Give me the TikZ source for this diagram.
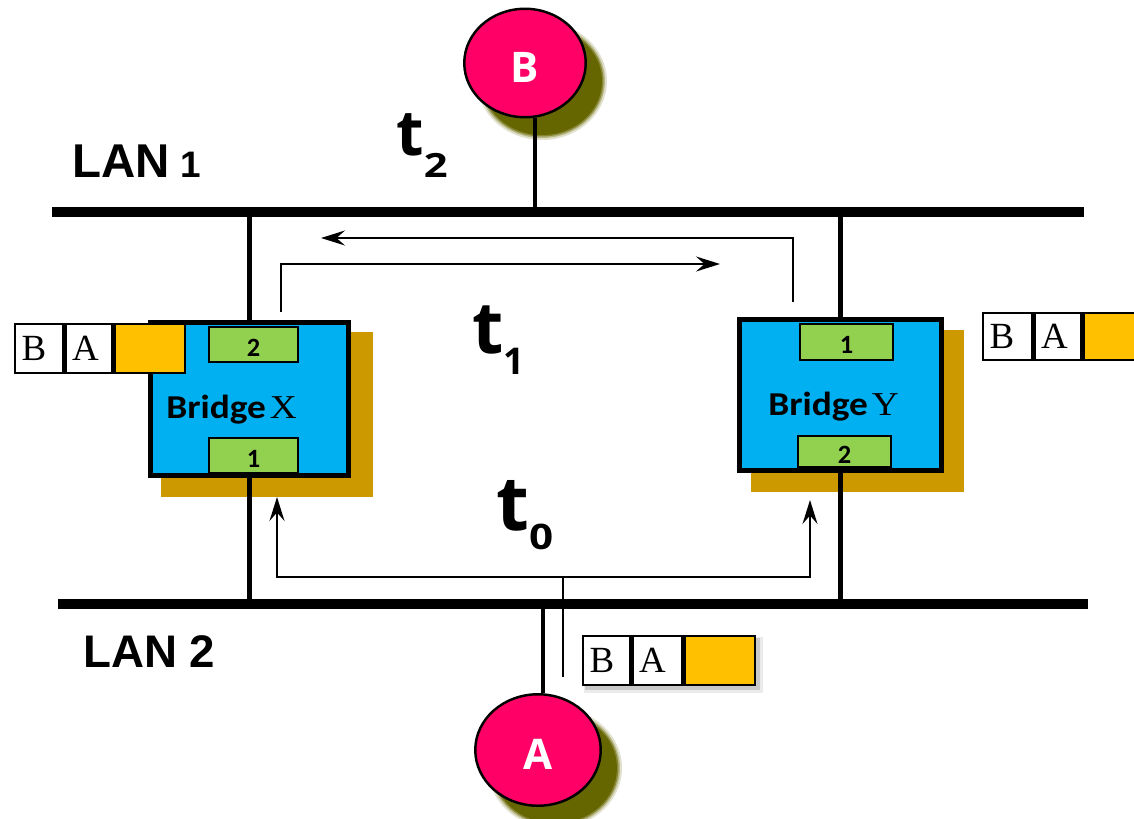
\documentclass[tikz,border=0pt]{standalone}
\usepackage{fontspec}
\usetikzlibrary{arrows.meta,shapes.geometric,calc}
\setmainfont{Liberation Serif}
\newfontfamily\osans{Open Sans}
\newfontfamily\carl{Carlito}
\newfontfamily\lsans{Liberation Sans}
\newcommand{\sx}[2]{\scalebox{#1}[1]{#2}}
\definecolor{nodered}{HTML}{FF0066}
\definecolor{olivesh}{HTML}{666600}
\definecolor{bridgeblue}{HTML}{00B0F0}
\definecolor{bridgesh}{HTML}{CC9900}
\definecolor{portgreen}{HTML}{92D050}
\definecolor{cellorange}{HTML}{FFC000}
\pgfdeclarelayer{shadowlayer}
\pgfdeclarelayer{wirelayer}
\pgfsetlayers{shadowlayer,wirelayer,main}
\begin{document}
\begin{tikzpicture}[x=0.02cm,y=-0.02cm,
  lan/.style={line width=5.7pt},
  wire/.style={line width=2.8pt},
  msg/.style={line width=1.1pt},
  msgarrow/.style={msg,-{Stealth[length=0.48cm,width=0.3cm,inset=0.17cm]}},
  station/.style={ellipse,draw,line width=1.4pt,fill=nodered,text=white,inner sep=0pt,
    text height=0.76cm,text depth=0pt,font=\osans\bfseries\fontsize{24}{24}\selectfont},
  bridgebox/.style={draw,line width=2.8pt,fill=bridgeblue,inner sep=0pt},
  port/.style={draw,line width=1.1pt,fill=portgreen,inner sep=0pt,text height=0.46cm,
    text depth=0pt,font=\carl\bfseries\fontsize{15}{15}\selectfont},
  cell/.style={draw,line width=1.4pt,fill=white,inner ysep=0pt,inner xsep=0.13cm,align=left,
    anchor=west,minimum height=0.98cm,font=\fontsize{21}{21}\selectfont},
  ocell/.style={cell,fill=cellorange},
  bridgelabel/.style={inner sep=0pt,anchor=base west,font=\carl\bfseries\fontsize{19}{19}\selectfont},
  lanlabel/.style={inner sep=0pt,anchor=base west,font=\lsans\bfseries},
  tlabel/.style={inner sep=0pt,anchor=base west,font=\osans\bfseries},
]
\useasboundingbox (0,0) rectangle (1134,819);
\clip (0,0) rectangle (1134,819);

% LAN coordinates
\coordinate (l1w) at (52,212);
\coordinate (l1e) at (1084,212);
\coordinate (l2w) at (58,604);
\coordinate (l2e) at (1088,604);
\coordinate (bt) at (535,212);
\coordinate (at) at (543,604);

% Bridge X
\node[bridgebox,minimum width=3.96cm,minimum height=3.06cm] (bx) at (249.5,399) {};
\node[port,minimum width=1.78cm,minimum height=0.70cm] (bx2) at (253.5,344.5) {2};
\node[port,minimum width=1.78cm,minimum height=0.70cm] (bx1) at (253.5,455.5) {1};
\node[bridgelabel] (bxl) at (166,418) {\sx{1.12}{Bridge\kern2pt{\rmfamily\mdseries X}}};

% Bridge Y
\node[bridgebox,minimum width=4.04cm,minimum height=3.02cm] (by) at (840.5,395) {};
\node[port,minimum width=1.86cm,minimum height=0.72cm] (by1) at (846.5,342) {1};
\node[port,minimum width=1.86cm,minimum height=0.62cm] (by2) at (844.5,451.5) {2};
\node[bridgelabel] (byl) at (768,415) {\sx{1.12}{Bridge\kern2pt{\rmfamily\mdseries Y}}};

% Frames
\node[cell,text width=0.70cm] (xfB) at (14,348.5) {B};
\node[cell,text width=0.68cm] (xfA) at (xfB.east) {A};
\node[ocell,text width=1.14cm] (xfO) at (xfA.east) {};

\node[cell,text width=0.72cm,minimum height=0.94cm] (yfB) at (982,336.5) {B};
\node[cell,text width=0.68cm,minimum height=0.94cm] (yfA) at (yfB.east) {A};
\node[ocell,text width=1.14cm,minimum height=0.94cm] (yfO) at (yfA.east) {};

\node[cell,text width=0.68cm] (afB) at (582,660.5) {B};
\node[cell,text width=0.74cm] (afA) at (afB.east) {A};
\node[ocell,text width=1.14cm] (afO) at (afA.east) {};

% Stations
\node[station,minimum width=2.43cm,minimum height=2.17cm] (B) at (525,63) {B};
\node[station,minimum width=2.51cm,minimum height=2.23cm] (A) at (538,750) {A};

% Labels
\node[lanlabel] (lan1) at (72,177) {\fontsize{27}{27}\selectfont LAN\kern6pt{\fontsize{21}{21}\selectfont 1}};
\node[lanlabel] (lan2) at (83,667) {\fontsize{26}{26}\selectfont LAN 2};
\node[tlabel] (t2) at (396,155) {\fontsize{36}{36}\selectfont t\raisebox{-13pt}{\fontsize{19}{19}\selectfont\sx{1.25}{2}}};
\node[tlabel] (t1) at (472,353) {\fontsize{41}{41}\selectfont t\raisebox{-12.5pt}{\fontsize{21}{21}\selectfont 1}};
\node[tlabel] (t0) at (496,530) {\fontsize{43}{43}\selectfont t\raisebox{-11.3pt}{\fontsize{20}{20}\selectfont\sx{1.2}{0}}};

% LAN lines
\draw[lan] (l1w) -- (l1e);
\draw[lan] (l2w) -- (l2e);

% Message paths
\coordinate (m0s) at (563,677);
\coordinate (m0j) at (563,577);
\coordinate (m0l) at (277,577);
\coordinate (m0lt) at (277,497);
\coordinate (m0r) at (810,577);
\coordinate (m0rt) at (810,500);
\draw[msg] (m0s) -- (m0j);
\draw[msgarrow] (m0j) -- (m0l) -- (m0lt);
\draw[msgarrow] (m0j) -- (m0r) -- (m0rt);
\coordinate (m1a) at (281,312);
\coordinate (m1b) at (281,264);
\coordinate (m1c) at (720,264);
\draw[msgarrow] (m1a) -- (m1b) -- (m1c);
\coordinate (m2a) at (793,302);
\coordinate (m2b) at (793,238);
\coordinate (m2c) at (321,238);
\draw[msgarrow] (m2a) -- (m2b) -- (m2c);

% Wires
\begin{pgfonlayer}{wirelayer}
\draw[wire] (bt) -- (bt |- B.south);
\draw[wire] (at) -- (at |- A.north);
\draw[wire] (bx.north |- l1w) -- (bx.north);
\draw[wire] (bx.south) -- (bx.south |- l2w);
\draw[wire] (by.north |- l1w) -- (by.north);
\draw[wire] (by.south) -- (by.south |- l2w);
\end{pgfonlayer}

% Shadows
\begin{pgfonlayer}{shadowlayer}
\fill[bridgesh] ($(bx.north west)+(12.5,11.5)$) rectangle ($(bx.south east)+(22.5,19.5)$);
\fill[bridgesh] ($(by.north west)+(13.5,12.5)$) rectangle ($(by.south east)+(20.5,19.5)$);
\foreach \r/\o in {0.1/0.2,0.06/0.35,0.03/0.6,0/1}{
  \fill[olivesh,opacity=\o] ($(B.center)+(17,18)$) ellipse [x radius={(1.2+\r)*1cm},y radius={(1.08+\r)*1cm}];
  \fill[olivesh,opacity=\o] ($(A.center)+(17,18)$) ellipse [x radius={(1.24+\r)*1cm},y radius={(1.11+\r)*1cm}];
}
\fill[black,opacity=0.08] ($(afB.north west)+(2,2)$) rectangle ($(afO.south east)+(7,7)$);
\fill[black,opacity=0.15] ($(afB.north west)+(3,3)$) rectangle ($(afO.south east)+(4,4)$);
\end{pgfonlayer}
\end{tikzpicture}
\end{document}
